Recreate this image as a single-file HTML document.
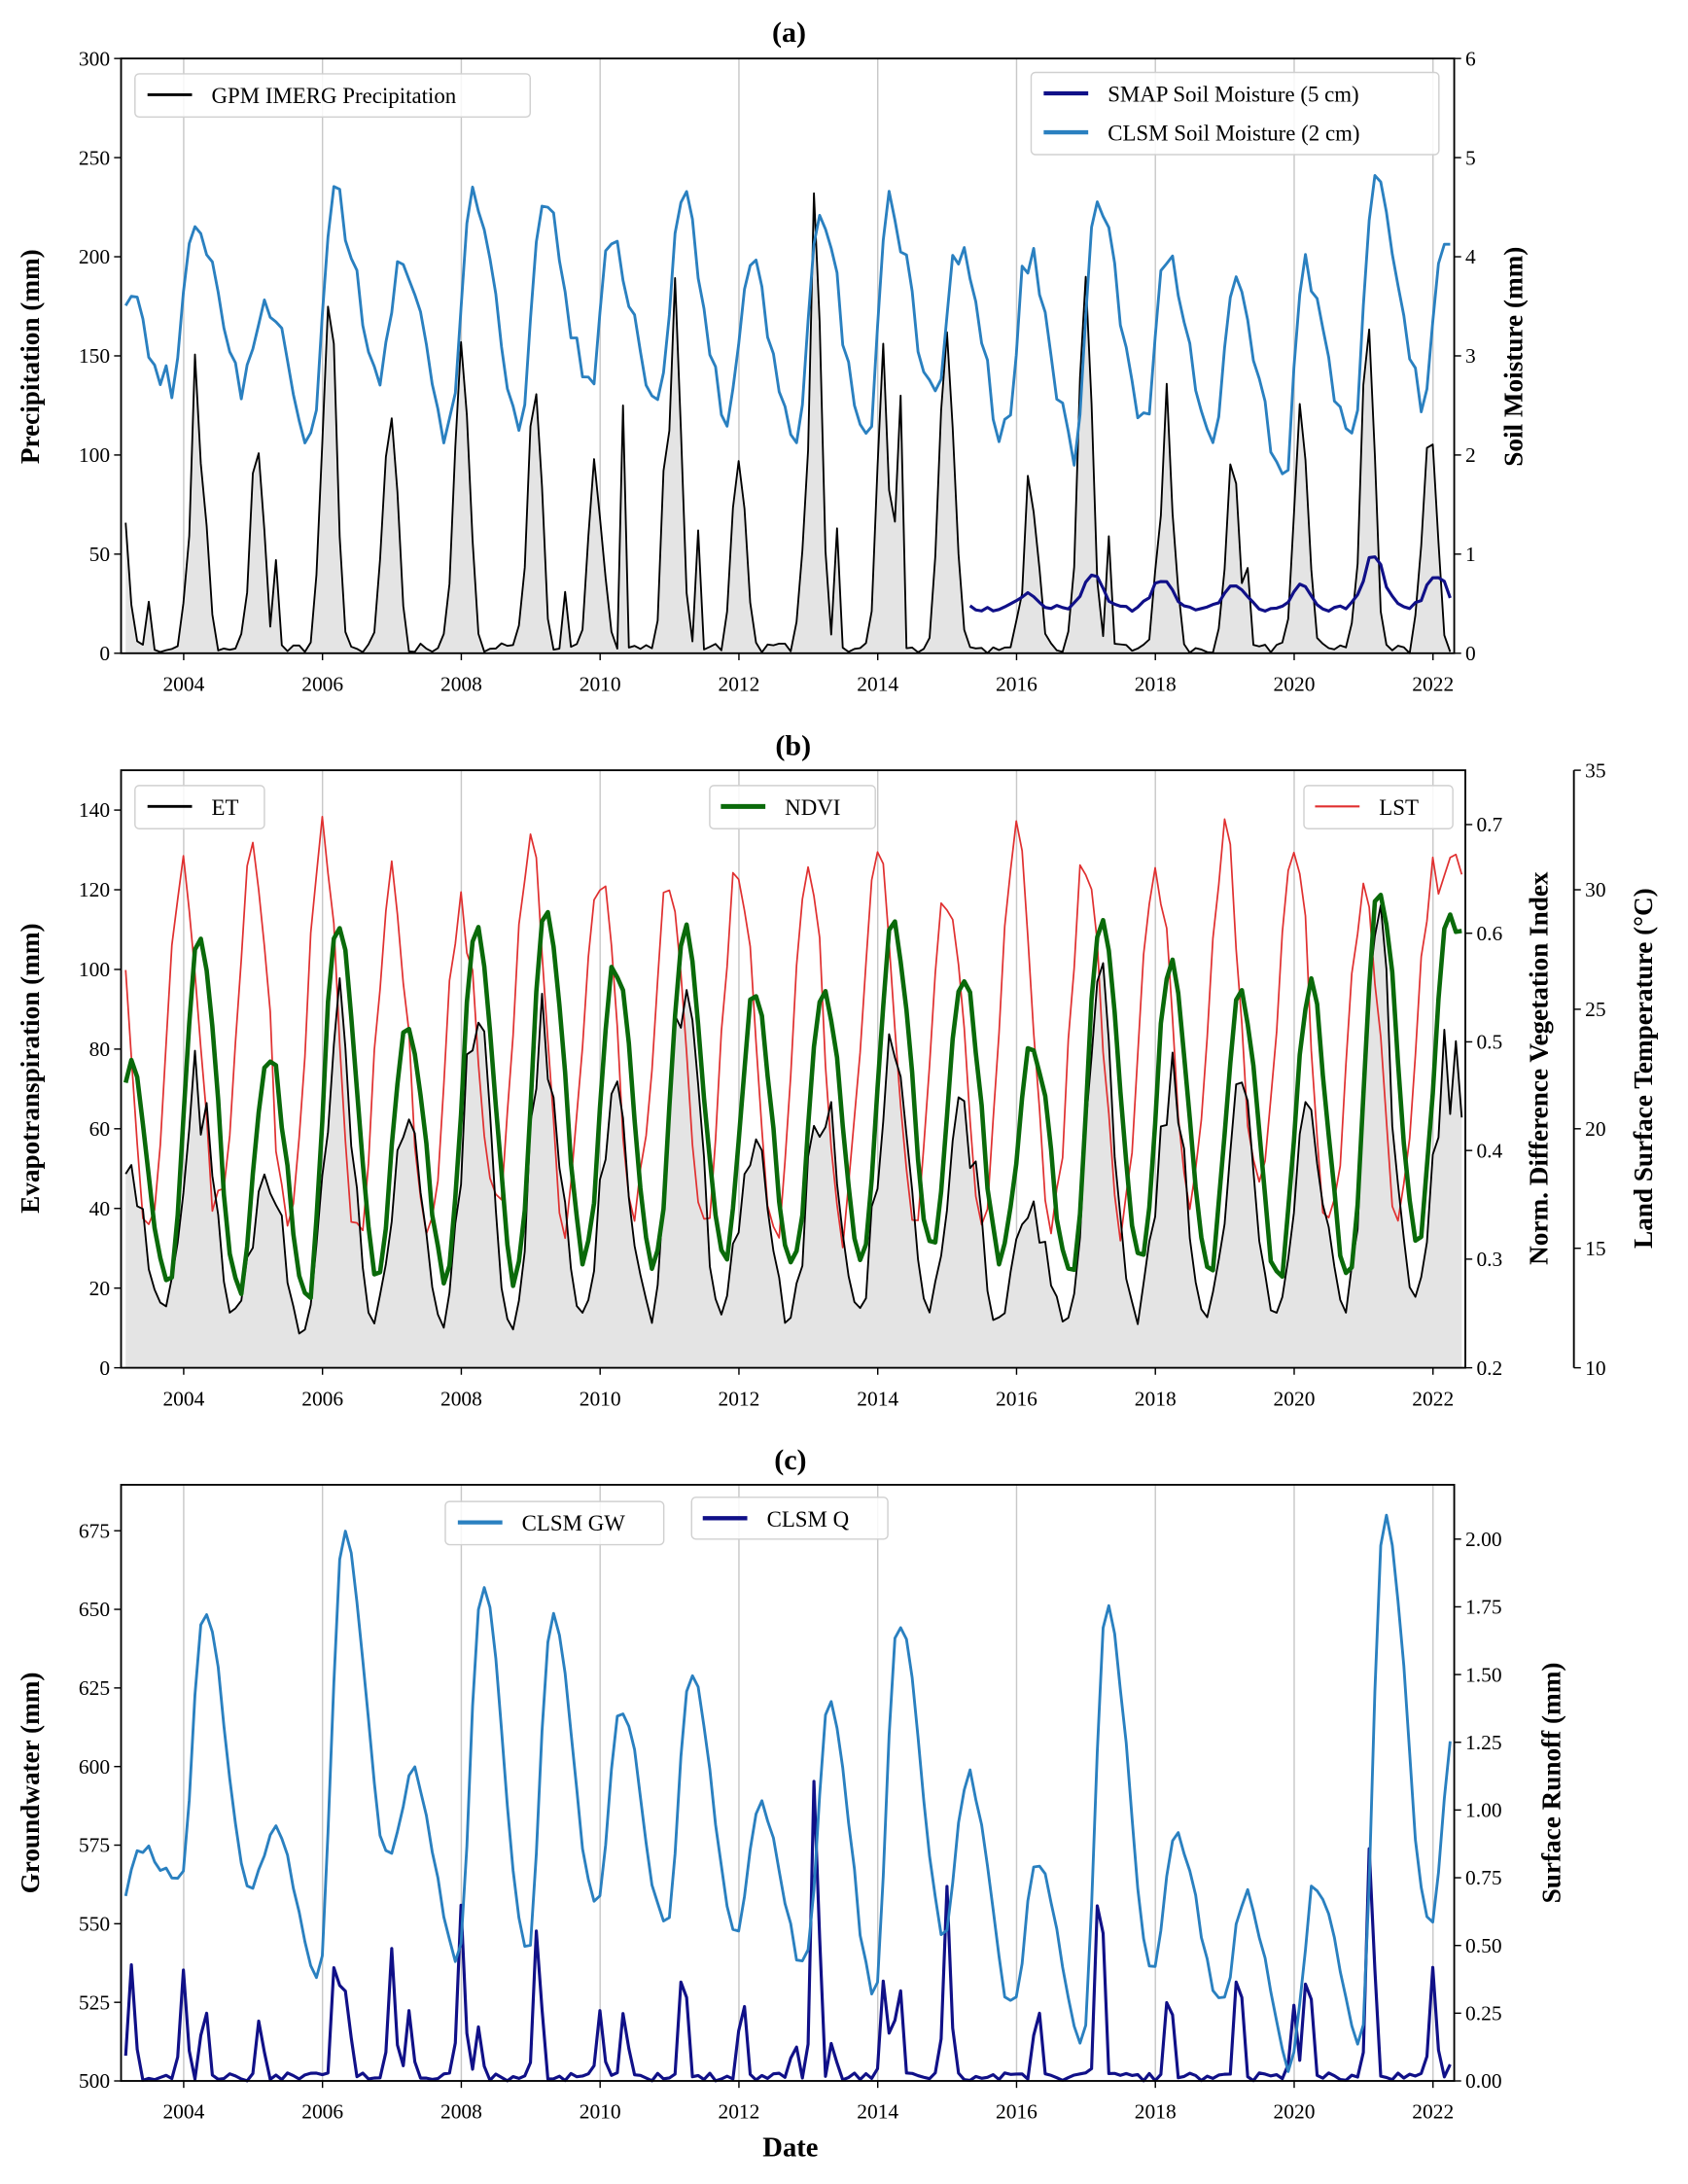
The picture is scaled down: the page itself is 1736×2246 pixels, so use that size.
<!DOCTYPE html>
<html><head><meta charset="utf-8">
<style>
html,body{margin:0;padding:0;background:#fff;}
svg{display:block;}
text{font-family:"Liberation Serif",serif;fill:#000;}
</style></head>
<body>
<svg id="s" width="1736" height="2246" viewBox="0 0 1213 1568" preserveAspectRatio="none" xmlns="http://www.w3.org/2000/svg"></svg>
<script>
(function(){
var svg=document.getElementById('s');var out=[];
var seed=12345;function rnd(){seed=(seed*1103515245+12345)%2147483648;return seed/2147483648;}
function X(t){return 132+(t-2004)*49.875;}
var T=[];for(var i=0;i<=232;i++)T.push(2003.08+i/12);
function interp(kp,t){ // kp sorted [[t,v],...], cosine interp
 if(t<=kp[0][0])return kp[0][1];
 for(var i=0;i<kp.length-1;i++){var a=kp[i],b=kp[i+1];if(t<=b[0]){var f=(t-a[0])/(b[0]-a[0]);f=(1-Math.cos(Math.PI*f))/2;return a[1]+(b[1]-a[1])*f;}}
 return kp[kp.length-1][1];}
function alt(peaks,pOff,troughs,tOff,y0){var kp=[];for(var i=0;i<peaks.length;i++){kp.push([y0+i+pOff,peaks[i]]);if(i<troughs.length)kp.push([y0+i+tOff,troughs[i]]);}return kp;}
function path(pts){return pts.map(function(p,i){return (i?'L':'M')+p[0].toFixed(1)+' '+p[1].toFixed(1);}).join('');}
function line(pts,c,w){out.push('<path d="'+path(pts)+'" fill="none" stroke="'+c+'" stroke-width="'+w+'" stroke-linejoin="round"/>');}
function fill(pts,yb){var d=path(pts)+'L'+pts[pts.length-1][0].toFixed(1)+' '+yb+'L'+pts[0][0].toFixed(1)+' '+yb+'Z';out.push('<path d="'+d+'" fill="#e4e4e4"/>');}
function txt(x,y,s,sz,anc,extra){out.push('<text x="'+x+'" y="'+y+'" font-size="'+sz+'" text-anchor="'+(anc||'start')+'" '+(extra||'')+'>'+s+'</text>');}
function grid(y1,y2){for(var yr=2004;yr<=2022;yr+=2){var x=X(yr);out.push('<line x1="'+x+'" y1="'+y1+'" x2="'+x+'" y2="'+y2+'" stroke="#c8c8c8" stroke-width="1"/>');}}
function xticks(yb){for(var yr=2004;yr<=2022;yr+=2){var x=X(yr);out.push('<line x1="'+x+'" y1="'+yb+'" x2="'+x+'" y2="'+(yb+5)+'" stroke="#000"/>');txt(x,yb+27,yr,15,'middle');}}
function box(x1,y1,x2,y2){out.push('<rect x="'+x1+'" y="'+y1+'" width="'+(x2-x1)+'" height="'+(y2-y1)+'" fill="none" stroke="#000" stroke-width="1.3"/>');}
function yt(x,y,lab,side){if(side<0){out.push('<line x1="'+(x-5)+'" y1="'+y+'" x2="'+x+'" y2="'+y+'" stroke="#000"/>');txt(x-8,y+5,lab,15,'end');}else{out.push('<line x1="'+x+'" y1="'+y+'" x2="'+(x+5)+'" y2="'+y+'" stroke="#000"/>');txt(x+8,y+5,lab,15,'start');}}
function vlab(x,y,s,sz){out.push('<text x="'+x+'" y="'+y+'" font-size="'+sz+'" font-weight="bold" text-anchor="middle" transform="rotate(-90 '+x+' '+y+')">'+s+'</text>');}
function legbox(x1,y1,x2,y2){out.push('<rect x="'+x1+'" y="'+y1+'" width="'+(x2-x1)+'" height="'+(y2-y1)+'" rx="3" fill="#fff" fill-opacity="0.85" stroke="#d0d0d0"/>');}
function legitem(x,y,c,w,s){out.push('<line x1="'+x+'" y1="'+y+'" x2="'+(x+32)+'" y2="'+y+'" stroke="'+c+'" stroke-width="'+w+'"/>');txt(x+46,y+6,s,16);}
var BLUE='#2a80c0',NAVY='#101088';

// ---------- Panel (a)
var L=87,R=1045;
txt(567,30,'(a)',21,'middle','font-weight="bold"');
grid(42,469);
var pk={2003:[2003.12,70],2004:[2004.2,160],2005:[2005.05,105],2006:[2006.1,178],2007:[2006.98,120],2008:[2008.0,157],2009:[2009.05,136],2010:[2009.95,104],2011:[2011.05,197],2012:[2012.0,97],2013:[2013.08,232],2014:[2014.1,159],2015:[2015.0,162],2016:[2016.2,95],2017:[2017.0,190],2018:[2018.15,137],2019:[2019.1,97],2020:[2020.1,128],2021:[2021.05,170],2022:[2021.95,110]};
var extra=[[2010.35,125],[2013.45,63],[2011.42,62],[2014.3,130],[2008.15,57],[2009.5,31],[2017.3,59],[2019.35,43],[2022.33,110],[2005.3,47],[2003.5,26]];
function yA(v){return 469-v*427/300;}function yAR(v){return 469-v*427/6;}
var P=T.map(function(t){var m=0;for(var k in pk){var c=pk[k][0],a=pk[k][1];var d=Math.round((t-c)*12);var v=a*Math.exp(-Math.pow((t-c)/0.15,2));if(d!==0)v*=0.6+0.5*rnd();if(v>m)m=v;}extra.forEach(function(e){if(Math.abs(t-e[0])<0.04&&e[1]>m)m=e[1];});if(m<4)m=rnd()*5;return [X(t),yA(Math.min(m,232))];});
P=P.filter(function(p){return p[0]>=L&&p[0]<=R+1;});
fill(P,469);line(P,'#000',1.3);
var smP=[3.6,4.4,3.6,4.6,4.0,4.7,4.6,4.2,4.6,3.9,4.4,4.5,4.1,4.0,4.5,4.0,3.7,3.9,4.9,4.1];
var smT=[2.7,2.7,2.05,2.85,2.2,2.35,2.7,2.45,2.4,2.1,2.1,2.5,2.2,2.05,2.4,2.2,1.75,2.1,2.6];
var kp=alt(smP,0.15,smT,0.85,2003);kp.unshift([2003.0,3.3]);
var SM=T.map(function(t){return [X(t),yAR(interp(kp,t)+(rnd()-0.5)*0.35)];}).filter(function(p){return p[0]>=L&&p[0]<=R+1;});
var smap=[[2016.15,0.15],[2017.1,0.35],[2018.1,0.3],[2019.15,0.25],[2020.1,0.22],[2021.15,0.55],[2022.05,0.35]];
var SP=T.filter(function(t){return t>=2015.33;}).map(function(t){var v=0.45;smap.forEach(function(s){v+=s[1]*Math.exp(-Math.pow((t-s[0])/0.2,2));});v+=(rnd()-0.5)*0.06;return [X(t),yAR(v)];}).filter(function(p){return p[0]<=R+1;});
line(SP,NAVY,2.2);
line(SM,BLUE,2);
box(L,42,R,469);
[0,50,100,150,200,250,300].forEach(function(v){yt(L,yA(v),v,-1);});
[0,1,2,3,4,5,6].forEach(function(v){yt(R,yAR(v),v,1);});
xticks(469);
vlab(28,256,'Precipitation (mm)',19);vlab(1094,256,'Soil Moisture (mm)',19);
legbox(97,53,381,84);legitem(106,68,'#000',2,'GPM IMERG Precipitation');
legbox(741,52,1034,111);legitem(750,67,NAVY,3,'SMAP Soil Moisture (5 cm)');legitem(750,95,BLUE,3,'CLSM Soil Moisture (2 cm)');

// ---------- Panel (b)
var Rb=1053;
txt(570,542,'(b)',21,'middle','font-weight="bold"');
grid(553,982);
function yB(v){return 982-v*429/150;}function yN(v){return 982-(v-0.2)*780;}function yL(v){return 982-(v-10)*429/25;}
var etP=[47,71,47,84,58,82,83,65,91,60,70,82,65,40,88,69,64,62,100,76];
var etT=[14,13,9,13,11,11,12,13,13,12,13,13,12,12,12,12,12,14,15];
var kpE=alt(etP,0.22,etT,0.72,2003);kpE.unshift([2003.0,32]);
function xs(t){return Math.min(Math.max(X(t),L),Rb);}
var ET=T.map(function(t){var v=interp(kpE,t);v+=(rnd()-0.5)*v*0.35;return [X(t),yB(Math.max(v,8))];}).filter(function(p){return p[0]>=L&&p[0]<=Rb+1;});
fill(ET,982);
var ndP=[0.48,0.6,0.49,0.61,0.52,0.6,0.62,0.57,0.6,0.54,0.55,0.61,0.56,0.5,0.61,0.57,0.55,0.55,0.64,0.61];
var ndT=[0.28,0.27,0.26,0.29,0.28,0.28,0.3,0.29,0.3,0.29,0.3,0.31,0.3,0.28,0.3,0.29,0.28,0.28,0.32];
var kpN=alt(ndP,0.22,ndT,0.78,2003);kpN.unshift([2003.0,0.42]);
var ND=T.map(function(t){return [X(t),yN(interp(kpN,t)+(rnd()-0.5)*0.02)];}).filter(function(p){return p[0]>=L&&p[0]<=Rb+1;});
var lsP=[31,30.5,32,32.5,30.5,29,31.5,30.5,30,31,30.5,31.5,30,33,31.5,31,32,32,29.5,30.5];
var lsT=[16,16.5,15.5,15.8,15.5,16.8,16.2,16.5,15.7,15.5,16,16.3,16.6,15.9,15.7,16.6,16.9,15.4,16.2];
var kpL=alt(lsP,0.0,lsT,0.5,2003);kpL.unshift([2003.08,31]);
var LS=T.map(function(t){return [X(t),yL(interp(kpL,t)+(rnd()-0.5)*2)];}).filter(function(p){return p[0]>=L&&p[0]<=Rb+1;});
line(LS,'#e03030',1.2);
line(ET,'#000',1.3);
line(ND,'#0a6a0a',3.2);
box(L,553,Rb,982);
[0,20,40,60,80,100,120,140].forEach(function(v){yt(L,yB(v),v,-1);});
[0.2,0.3,0.4,0.5,0.6,0.7].forEach(function(v){yt(Rb,yN(v),v.toFixed(1),1);});
out.push('<line x1="1131" y1="553" x2="1131" y2="982" stroke="#000" stroke-width="1.3"/>');
[10,15,20,25,30,35].forEach(function(v){yt(1131,yL(v),v,1);});
xticks(982);
vlab(28,767,'Evapotranspiration (mm)',19);vlab(1112,767,'Norm. Difference Vegetation Index',19);vlab(1187,767,'Land Surface Temperature (°C)',19);
legbox(97,564,190,595);legitem(106,579,'#000',2,'ET');
legbox(510,564,629,595);legitem(518,579,'#0a6a0a',3.5,'NDVI');
legbox(937,564,1044,595);legitem(945,579,'#e03030',1.5,'LST');

// ---------- Panel (c)
txt(568,1055,'(c)',21,'middle','font-weight="bold"');
grid(1066,1494);
function yG(v){return 1494-(v-500)*395/175;}function yQ(v){return 1494-v*389/2;}
var gwP=[575,650,579,674,598,658,648,618,630,588,620,647,597,571,650,578,559,563,682,613];
var gwT=[562,561,535,571,538,540,554,549,548,536,528,548,523,514,537,525,505,513,549];
var kpG=[[2003.08,557]];
for(var i=0;i<gwP.length;i++){kpG.push([2003+i+(i==0?0.35:0.3),gwP[i]]);if(i<gwT.length)kpG.push([2003+i+0.95,gwT[i]]);}
var GW=T.map(function(t){return [X(t),yG(interp(kpG,t)+(rnd()-0.5)*5)];}).filter(function(p){return p[0]>=L&&p[0]<=R+1;});
var qp=[[2003.25,0.43],[2004.0,0.41],[2004.3,0.3],[2005.1,0.24],[2006.2,0.55],[2006.35,0.36],[2007.0,0.49],[2007.25,0.26],[2008.0,0.65],[2008.25,0.2],[2009.1,0.6],[2010.0,0.26],[2010.35,0.27],[2011.2,0.48],[2012.05,0.33],[2012.8,0.15],[2013.1,1.2],[2013.35,0.15],[2014.1,0.4],[2014.3,0.4],[2015.0,0.72],[2016.3,0.3],[2017.2,0.85],[2018.2,0.38],[2019.2,0.48],[2020.0,0.28],[2020.2,0.47],[2021.1,0.93],[2022.0,0.42],[2022.33,0.25]];
var Q=T.map(function(t){var v=rnd()*0.03;qp.forEach(function(q){var d=Math.abs(t-q[0]);var s=q[1]*Math.exp(-Math.pow(d/0.07,2));if(s>v)v=s;});return [X(t),yQ(v)];}).filter(function(p){return p[0]>=L&&p[0]<=R+1;});
line(Q,NAVY,2.2);
line(GW,BLUE,2);
box(L,1066,R,1494);
[500,525,550,575,600,625,650,675].forEach(function(v){yt(L,yG(v),v,-1);});
[0,0.25,0.5,0.75,1,1.25,1.5,1.75,2].forEach(function(v){yt(R,yQ(v),v.toFixed(2),1);});
xticks(1494);
txt(568,1548,'Date',20,'middle','font-weight="bold"');
vlab(28,1280,'Groundwater (mm)',19);vlab(1121,1280,'Surface Runoff (mm)',19);
legbox(320,1078,477,1109);legitem(329,1093,BLUE,3,'CLSM GW');
legbox(497,1075,638,1105);legitem(505,1090,NAVY,3,'CLSM Q');

svg.innerHTML=out.join('');
})();
</script>
</body></html>
